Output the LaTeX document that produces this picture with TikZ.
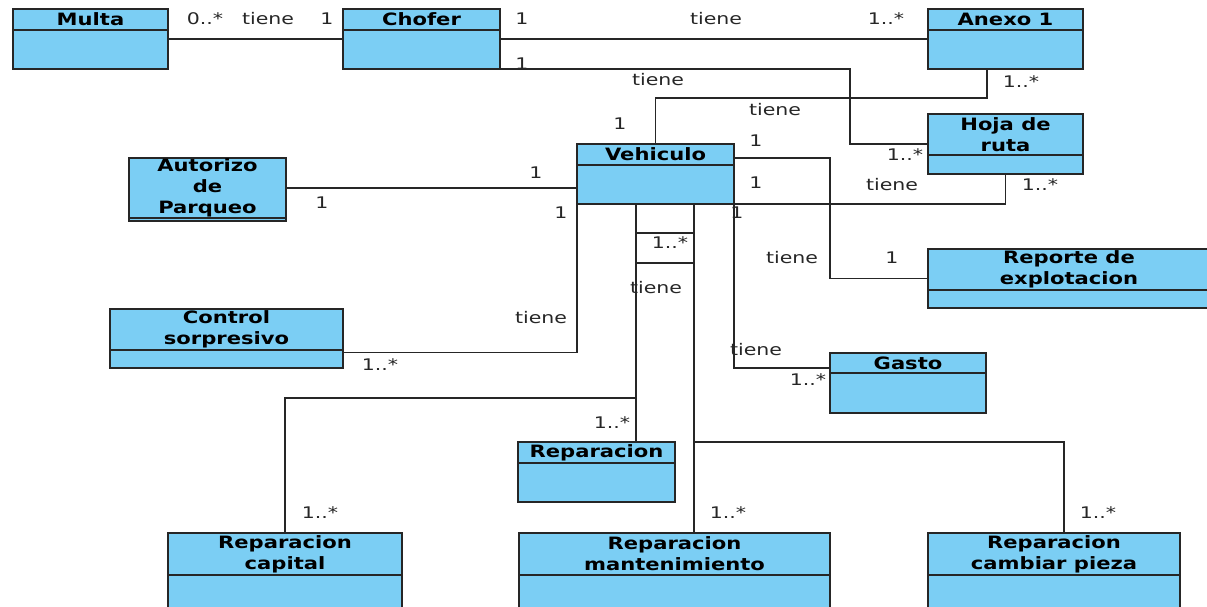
\documentclass[tikz,border=0pt]{standalone}
\usepackage{fontspec}
\setmainfont{DejaVu Sans}[FakeStretch=1.28]
\newfontfamily\clsfont{DejaVu Sans}[FakeStretch=1.24]
\usetikzlibrary{calc}
\definecolor{clsfill}{RGB}{123,206,244}
\definecolor{ink}{RGB}{38,38,38}
\tikzset{
  cls/.style={draw=ink, fill=clsfill, line width=1.5pt, inner sep=0pt, outer sep=0pt, anchor=north west},
  clsname/.style={font=\clsfont\fontsize{17}{21}\selectfont\bfseries, align=center, inner sep=0pt, text=black},
  sepline/.style={draw=ink, line width=1.3pt},
  assoc/.style={draw=ink, line width=1.4pt},
  lbl/.style={font=\fontsize{16}{19}\selectfont, text=ink, inner sep=0pt},
}
% class box: name, left, top, width, height, header height, title
\newcommand\umlclass[7]{%
  \node[cls, minimum width=#4pt, minimum height=#5pt] (#1) at (#2,#3) {};
  \node[clsname] (#1-t) at ([yshift=-#6*0.5pt]#1.north) {#7};
  \draw[sepline] ([yshift=-#6pt]#1.north west) -- ([yshift=-#6pt]#1.north east);
}
\begin{document}
\begin{tikzpicture}[x=1pt,y=-1pt]
\useasboundingbox (0,0) rectangle (1207,607);
\clip (0,0) rectangle (1207,607);

% classes
\umlclass{multa}{13}{9}{155}{60}{21}{Multa}
\umlclass{chofer}{343}{9}{157}{60}{21}{Chofer}
\umlclass{anexo}{928}{9}{155}{60}{21}{Anexo 1}
\umlclass{hoja}{928}{114}{155}{60}{41}{Hoja de\\ruta}
\umlclass{vehiculo}{577}{144}{157}{60}{21}{Vehiculo}
\umlclass{autorizo}{129}{158}{157}{63}{60}{Autorizo\\de\\Parqueo}
\umlclass{reporte}{928}{249}{282}{59}{41}{Reporte de\\explotacion}
\umlclass{control}{110}{309}{233}{59}{41}{Control\\sorpresivo}
\umlclass{gasto}{830}{353}{156}{60}{20}{Gasto}
\umlclass{reparacion}{518}{442}{157}{60}{21}{Reparacion}
\umlclass{capital}{168}{533}{234}{80}{42}{Reparacion\\capital}
\umlclass{mant}{519}{533}{311}{80}{42}{Reparacion\\mantenimiento}
\umlclass{pieza}{928}{533}{252}{80}{42}{Reparacion\\cambiar pieza}

% associations
\draw[assoc] (multa.east) -- (chofer.west);
\draw[assoc] (chofer.east) -- (anexo.west);
\draw[assoc] (chofer.south east) -- ++(350,0) |- (hoja.west);
\draw[assoc] ([xshift=-18.5pt]anexo.south) -- ++(0,29) -| (vehiculo.north);
\draw[assoc] (vehiculo.south east) -| (hoja.south);
\draw[assoc] ([yshift=-14pt]vehiculo.north east) -- ++(96,0) |- (reporte.west);
\draw[assoc] (autorizo.east |- 0,188) -- (vehiculo.west |- 0,188);
\draw[assoc] (vehiculo.south west) |- ([yshift=-14pt]control.east);
\draw[assoc] (vehiculo.south east) |- ([yshift=15pt]gasto.west);

\coordinate (vr) at ([xshift=-19.5pt]vehiculo.south);
\coordinate (vm) at ([xshift=38.5pt]vehiculo.south);
\coordinate (jc) at ([yshift=-194pt]vr);
\coordinate (jm) at ([yshift=-238pt]vm);
\draw[assoc] (vr) -- (vr |- reparacion.north);
\draw[assoc] (jc) -| (capital.north);
\draw[assoc] (vm) -- (vm |- mant.north);
\draw[assoc] (jm) -| ([xshift=10pt]pieza.north);
\draw[assoc] ([yshift=-29pt]vr) -- ([yshift=-29pt]vm);
\draw[assoc] ([yshift=-59pt]vr) -- ([yshift=-59pt]vm);

% role multiplicities and association names
\foreach \n/\x/\y/\t in {
  a1/205/19/0..*, a2/268/19/tiene, a3/327/19/1,
  b1/522/19/1, b2/716/19/tiene, b3/886/19/1..*,
  c1/522/64/1, c2/658/80/tiene, c3/905/155/1..*,
  d1/1021/82/1..*, d2/775/110/tiene, d3/620/124/1,
  e1/756/141/1, e2/792/258/tiene, e3/892/258/1,
  f1/756/183/1, f2/892/185/tiene, f3/1040/185/1..*,
  g1/322/203/1, g2/536/173/1,
  h1/561/213/1, h2/541/318/tiene, h3/380/365/1..*,
  i1/737/213/1, i2/756/350/tiene, i3/808/380/1..*,
  j1/670/243/1..*, j2/656/288/tiene,
  k1/612/423/1..*, k2/320/513/1..*, k3/728/513/1..*, k4/1098/513/1..*}
  \node[lbl] (\n) at (\x,\y) {\t};
\end{tikzpicture}
\end{document}
